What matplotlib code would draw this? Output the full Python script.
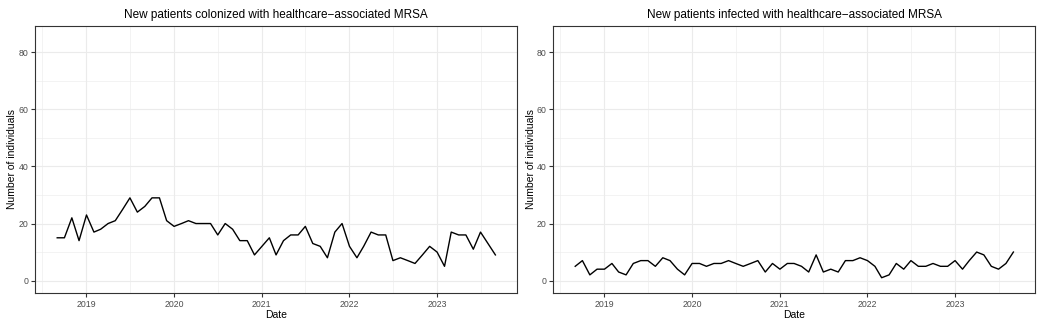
import pandas as pd
import matplotlib
matplotlib.use("Agg")
import matplotlib.pyplot as plt
import matplotlib.dates as mdates

plt.rcParams['font.family'] = ['Liberation Sans', 'DejaVu Sans']

# monthly counts, Sep 2018 - Sep 2023
months = pd.date_range("2018-09-01", "2023-09-01", freq="MS")

colonized = [15, 15, 22, 14,
             23, 17, 18, 20, 21, 25, 29, 24, 26, 29, 29, 21,
             19, 20, 21, 20, 20, 20, 16, 20, 18, 14, 14, 9,
             12, 15, 9, 14, 16, 16, 19, 13, 12, 8, 17, 20,
             12, 8, 12, 17, 16, 16, 7, 8, 7, 6, 9, 12,
             10, 5, 17, 16, 16, 11, 17, 13, 9]

infected = [5, 7, 2, 4,
            4, 6, 3, 2, 6, 7, 7, 5, 8, 7, 4, 2,
            6, 6, 5, 6, 6, 7, 6, 5, 6, 7, 3, 6,
            4, 6, 6, 5, 3, 9, 3, 4, 3, 7, 7, 8,
            7, 5, 1, 2, 6, 4, 7, 5, 5, 6, 5, 5,
            7, 4, 7, 10, 9, 5, 4, 6, 10]

titles = ["New patients colonized with healthcare\u2212associated MRSA",
          "New patients infected with healthcare\u2212associated MRSA"]

fig = plt.figure(figsize=(10.46, 3.27), dpi=100)
W, H = 1046, 327
boxes = [(35.3, 26, 517.3, 292.7), (553.3, 26, 1035.3, 292.7)]

span = months[-1] - months[0]
xlo = months[0] - span * 0.05
xhi = months[-1] + span * 0.05

for (x0, y0, x1, y1), vals, title in zip(boxes, [colonized, infected], titles):
    ax = fig.add_axes([x0 / W, 1 - y1 / H, (x1 - x0) / W, (y1 - y0) / H])
    ax.plot(months, vals, color="black", lw=1.0)
    ax.set_xlim(xlo, xhi)
    ax.set_ylim(-4.25, 89.25)
    ax.set_yticks([0, 20, 40, 60, 80])
    ax.set_yticks([10, 30, 50, 70], minor=True)
    ax.xaxis.set_major_locator(mdates.YearLocator())
    ax.xaxis.set_major_formatter(mdates.DateFormatter("%Y"))
    ax.xaxis.set_minor_locator(mdates.MonthLocator(bymonth=7))
    ax.grid(which="major", color="#EBEBEB", lw=0.8)
    ax.grid(which="minor", color="#EBEBEB", lw=0.4)
    ax.set_axisbelow(True)
    for s in ax.spines.values():
        s.set_color("#333333")
        s.set_linewidth(0.8)
    ax.tick_params(which="major", length=3, width=0.8, color="#333333",
                   labelsize=6.3, labelcolor="#4D4D4D", pad=2.2)
    ax.tick_params(which="minor", length=0)
    ax.set_xlabel("Date", fontsize=7.5, labelpad=1)
    ax.set_ylabel("Number of individuals", fontsize=7.5)
    ax.yaxis.set_label_coords(-17.8 / (x1 - x0), 0.5)
    ax.set_title(title, fontsize=8.5, pad=6)

fig.savefig("out.png", dpi=100)
